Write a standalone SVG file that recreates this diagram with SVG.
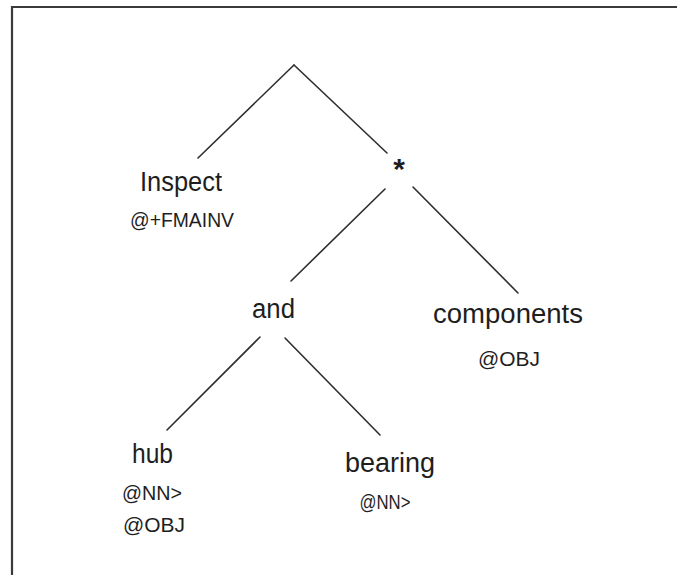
<svg xmlns="http://www.w3.org/2000/svg" width="677" height="575" viewBox="0 0 677 575">
  <style>
    .frame { fill: none; stroke: #3a3a3a; stroke-width: 2.2; }
    .edge { stroke: #2e2e2e; stroke-width: 1.6; stroke-linecap: round; fill: none; }
    .word { font-family: "Liberation Sans", "DejaVu Sans", sans-serif; font-size: 27px; fill: #1e1e1e; text-anchor: middle; }
    .tag { font-family: "Liberation Sans", "DejaVu Sans", sans-serif; font-size: 21px; fill: #1e1e1e; text-anchor: middle; }
    .star { font-family: "Liberation Sans", "DejaVu Sans", sans-serif; font-size: 30px; font-weight: bold; fill: #1e1e1e; text-anchor: middle; }
  </style>
  <rect width="677" height="575" fill="#ffffff"/>
  <!-- frame: top and left rules only -->
  <path class="frame" d="M12,575 V7 H677"/>

  <!-- tree branches -->
  <g id="connectors">
    <line class="edge" x1="294" y1="65" x2="198" y2="158"/>
    <line class="edge" x1="294" y1="65" x2="387" y2="153"/>
    <line class="edge" x1="385" y1="189" x2="291" y2="281"/>
    <line class="edge" x1="413" y1="187" x2="518" y2="293"/>
    <line class="edge" x1="260" y1="337" x2="167" y2="430"/>
    <line class="edge" x1="285" y1="338" x2="380" y2="435"/>
  </g>

  <g id="node-inspect">
    <text class="word" x="181" y="191" textLength="82" lengthAdjust="spacingAndGlyphs">Inspect</text>
    <text class="tag" x="182" y="227" textLength="104" lengthAdjust="spacingAndGlyphs">@+FMAINV</text>
  </g>

  <g id="node-star">
    <text class="star" x="399" y="179">*</text>
  </g>

  <g id="node-and">
    <text class="word" x="273.5" y="318" textLength="43" lengthAdjust="spacingAndGlyphs">and</text>
  </g>

  <g id="node-components">
    <text class="word" x="508" y="323" textLength="150" lengthAdjust="spacingAndGlyphs">components</text>
    <text class="tag" x="509" y="366" textLength="62" lengthAdjust="spacingAndGlyphs">@OBJ</text>
  </g>

  <g id="node-hub">
    <text class="word" x="152.5" y="463" textLength="41" lengthAdjust="spacingAndGlyphs">hub</text>
    <text class="tag" x="152" y="500" textLength="60" lengthAdjust="spacingAndGlyphs">@NN&gt;</text>
    <text class="tag" x="154" y="532" textLength="62" lengthAdjust="spacingAndGlyphs">@OBJ</text>
  </g>

  <g id="node-bearing">
    <text class="word" x="390" y="472" textLength="90" lengthAdjust="spacingAndGlyphs">bearing</text>
    <text class="tag" x="385" y="509" textLength="51" lengthAdjust="spacingAndGlyphs">@NN&gt;</text>
  </g>
</svg>
